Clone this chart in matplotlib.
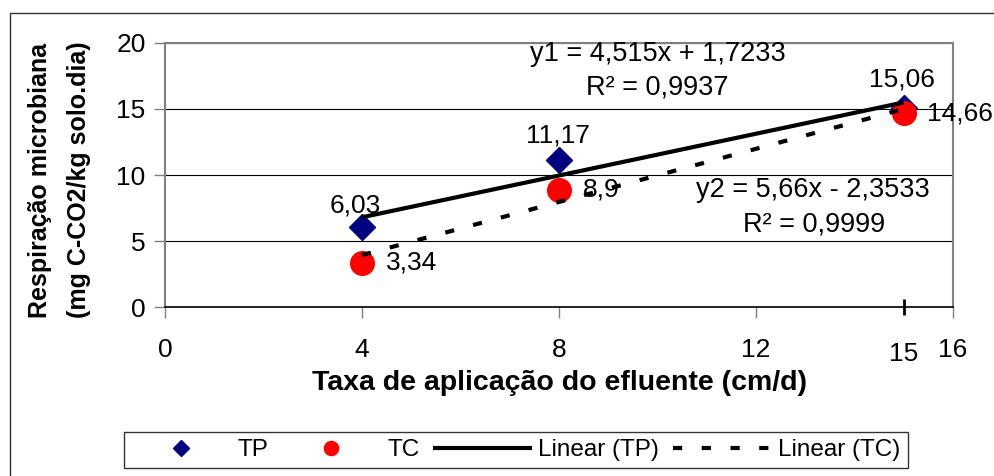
import numpy as np
import matplotlib.pyplot as plt
from matplotlib.patches import Rectangle

plt.rcParams['font.family'] = ['Liberation Sans', 'DejaVu Sans']

# dados
taxa = [4, 8, 15]
tp = [6.03, 11.17, 15.06]
tc = [3.34, 8.9, 14.66]
tp_rotulos = ['6,03', '11,17', '15,06']
tc_rotulos = ['3,34', '8,9', '14,66']
eq_tp = ['y1 = 4,515x + 1,7233', 'R² = 0,9937']
eq_tc = ['y2 = 5,66x - 2,3533', 'R² = 0,9999']

fig = plt.figure(figsize=(9.94, 4.76), dpi=100)
ax = fig.add_axes([0.166, 0.355, 0.7928, 0.5547])

# tendencias lineares (ajuste nos dados)
xs = np.array([min(taxa), max(taxa)])
a1, b1 = np.polyfit(taxa, tp, 1)
a2, b2 = np.polyfit(taxa, tc, 1)

ax.plot(taxa, tp, linestyle='none', marker='D', ms=13, color='#000080',
        label='TP', zorder=3)
ax.plot(taxa, tc, linestyle='none', marker='o', ms=17, color='#ff0000',
        label='TC', zorder=3)
ax.plot(xs, a1 * xs + b1, color='black', lw=3, label='Linear (TP)', zorder=4,
        solid_capstyle='butt')
ax.plot(xs, a2 * xs + b2, color='black', lw=3, dashes=(2.2, 4.7),
        label='Linear (TC)', zorder=4)

# rotulos dos pontos
fs = 19
desloc_tp = [(-5, 16), (-1, 17), (-1, 21)]
for x, y, r, d in zip(taxa, tp, tp_rotulos, desloc_tp):
    ax.annotate(r, (x, y), xytext=d, textcoords='offset points',
                ha='center', va='center', fontsize=fs, zorder=5)
for x, y, r in zip(taxa, tc, tc_rotulos):
    ax.annotate(r, (x, y), xytext=(17, 0), textcoords='offset points',
                ha='left', va='center', fontsize=fs, zorder=5)

ax.text(10, 19.15, eq_tp[0], ha='center', va='center', fontsize=19.5)
ax.text(10, 16.6, eq_tp[1], ha='center', va='center', fontsize=19.5)
ax.text(13.16, 8.85, eq_tc[0], ha='center', va='center', fontsize=19.5)
ax.text(13.18, 6.28, eq_tc[1], ha='center', va='center', fontsize=19.5)

ax.set_xlim(0, 16)
ax.set_ylim(0, 20)
ax.set_xticks([0, 4, 8, 12, 16])
ax.set_yticks([0, 5, 10, 15, 20])
ax.set_xticks([15], minor=True)
ax.set_xticklabels(['15'], minor=True)
ax.tick_params(axis='x', which='major', direction='out', length=8, width=1,
               color='#808080', pad=14.5, labelsize=fs)
ax.tick_params(axis='x', which='minor', direction='inout', length=11, width=2,
               color='black', pad=19.5, labelsize=fs)
ax.tick_params(axis='y', direction='out', length=8, width=1,
               color='#808080', pad=6, labelsize=fs)

ax.grid(axis='y', color='black', linewidth=0.8)
for s in ['top', 'right', 'left']:
    ax.spines[s].set_color('#808080')
    ax.spines[s].set_linewidth(1.5)
ax.spines['bottom'].set_color('black')
ax.spines['bottom'].set_linewidth(1.2)

fig.text(560 / 994, 1 - 383 / 476, 'Taxa de aplicação do efluente (cm/d)',
         ha='center', va='center', fontsize=20.5, fontweight='bold')
fig.text(40 / 994, 1 - 180 / 476, 'Respiração microbiana', rotation=90,
         ha='center', va='center', fontsize=18, fontweight='bold')
fig.text(79 / 994, 1 - 180 / 476, '(mg C-CO2/kg solo.dia)', rotation=90,
         ha='center', va='center', fontsize=18, fontweight='bold')

leg = fig.legend(*ax.get_legend_handles_labels(), loc='center', ncol=4,
                 bbox_to_anchor=(516 / 994, 1 - 450 / 476), fontsize=17.5,
                 frameon=True, fancybox=False, edgecolor='black',
                 handlelength=4.1, handletextpad=0.25, columnspacing=0.55,
                 markerscale=0.6, borderpad=0.3)
leg.get_frame().set_linewidth(1)

fig.patches.append(Rectangle((10 / 994, -0.1), 1.2, 1.1 - 13 / 476,
                             transform=fig.transFigure, fill=False,
                             edgecolor='#303030', linewidth=1))

fig.savefig('out.png', dpi=100)
